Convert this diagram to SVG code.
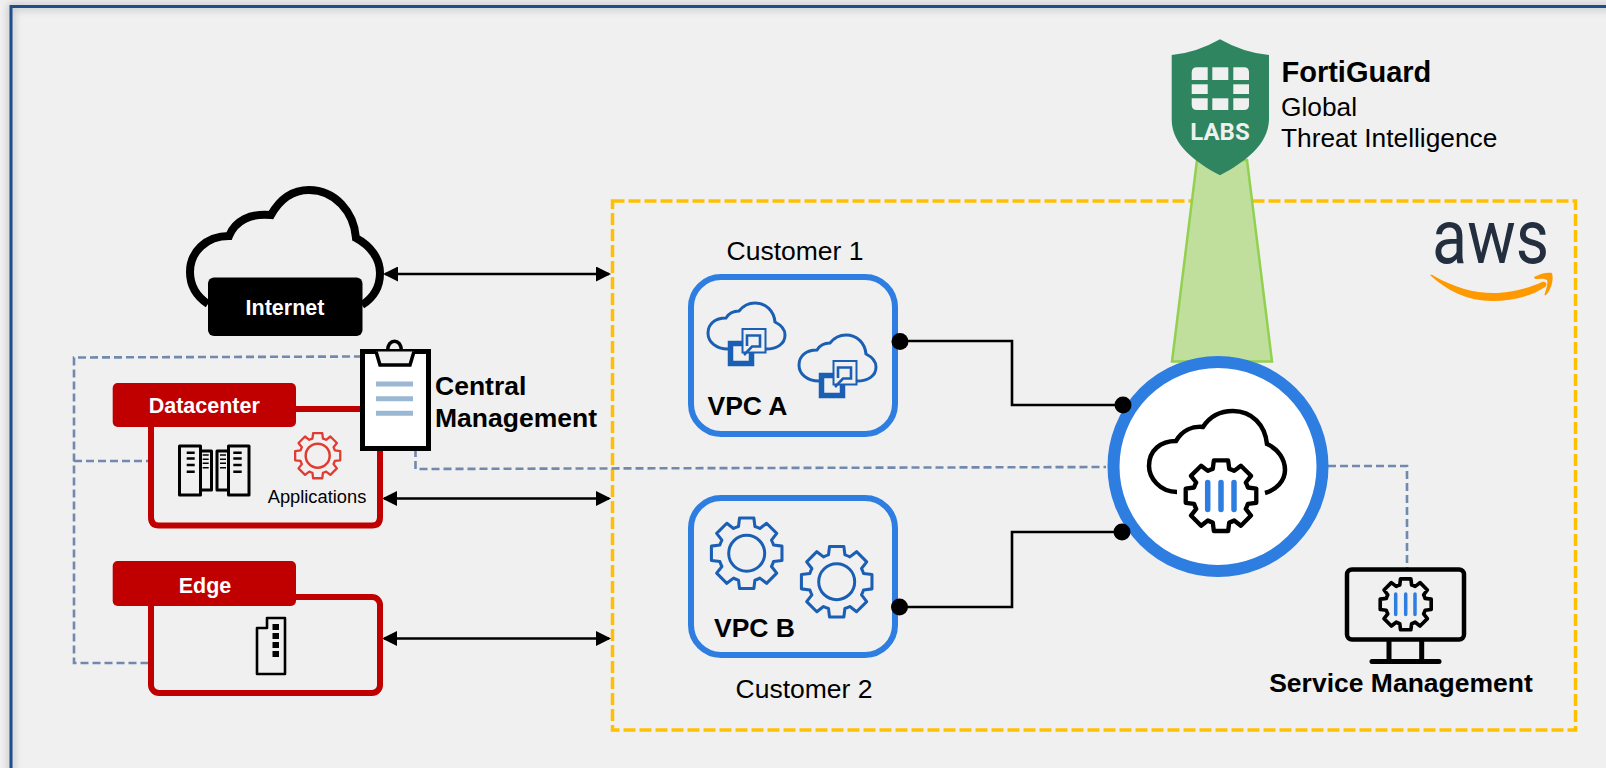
<svg xmlns="http://www.w3.org/2000/svg" width="1606" height="768" viewBox="0 0 1606 768">
<style>
text{font-family:"Liberation Sans",Arial,sans-serif;fill:#000}
.b{font-weight:bold}
.lbl{font-weight:bold;fill:#fff;font-size:21.500px;text-anchor:middle}
.t26{font-size:26.500px}
.mid{text-anchor:middle}
.red{fill:none;stroke:#c00000;stroke-width:6}
.redfill{fill:#c00000}
.vpc{fill:none;stroke:#2e7de1;stroke-width:6}
.dash{fill:none;stroke:#7189ad;stroke-width:2.600;stroke-dasharray:8 4}
.arrow{fill:none;stroke:#000;stroke-width:2.600;marker-start:url(#ah);marker-end:url(#ah)}
.wire{fill:none;stroke:#000;stroke-width:2.600}
.gear-b{fill:none;stroke:#1b5fb5;stroke-width:8.500;stroke-linejoin:round}
.bar{stroke:#2e7de1;stroke-linecap:round}
.blue{fill:none;stroke:#1b5fb5;stroke-width:3}
</style>
<defs>
<filter id="sh" x="-5%" y="-5%" width="110%" height="110%"><feGaussianBlur stdDeviation="4"/></filter>
<marker id="ah" viewBox="0 0 15 15" markerWidth="15" markerHeight="15" refX="13" refY="7.5" orient="auto-start-reverse" markerUnits="userSpaceOnUse"><path d="M0,0L15,7.5L0,15Z" fill="#000"/></marker>
<path id="gear" d="M19.9,-98L22.8,-74.6A78,78 0 0 1 36.6,-68.9L55.2,-83.4L83.4,-55.2L68.9,-36.6A78,78 0 0 1 74.6,-22.8L98,-19.9L98,19.9L74.6,22.8A78,78 0 0 1 68.9,36.6L83.4,55.2L55.2,83.4L36.6,68.9A78,78 0 0 1 22.8,74.6L19.9,98L-19.9,98L-22.8,74.6A78,78 0 0 1 -36.6,68.9L-55.2,83.4L-83.4,55.2L-68.9,36.6A78,78 0 0 1 -74.6,22.8L-98,19.9L-98,-19.9L-74.6,-22.8A78,78 0 0 1 -68.9,-36.6L-83.4,-55.2L-55.2,-83.4L-36.6,-68.9A78,78 0 0 1 -22.8,-74.6L-19.9,-98Z"/>
<g id="vpccloud">
<path class="blue" d="M728,349C716,349 708,342 708,333C708,324 715,318 726,318C729,313 734,311 739,311C743,306 749,303 755,303C766,303 774,311 775,322C781,325 785,330 785,335C785,344 777,349 766,349"/>
<rect x="730.500" y="343.500" width="21" height="20" fill="#f0f0f0" stroke="#1b5fb5" stroke-width="5.500"/>
<rect x="742.500" y="329" width="23" height="23.500" fill="#f0f0f0" stroke="#1b5fb5" stroke-width="2"/>
<path d="M747,346V335.500H760V346.500H752L744,355" fill="none" stroke="#1b5fb5" stroke-width="2.600"/>
</g>
</defs>

<g id="background">
<rect width="1606" height="768" fill="#f0f0f0"/>
<rect x="11" y="6.500" width="1700" height="900" fill="none" stroke="#777" stroke-width="4" opacity=".55" filter="url(#sh)"/>
<rect x="11" y="6.500" width="1700" height="900" fill="none" stroke="#1f4e8c" stroke-width="3"/>
</g>

<rect id="aws-region" x="612.500" y="201" width="963" height="529" fill="none" stroke="#ffc000" stroke-width="3.500" stroke-dasharray="12 4"/>

<g id="beam">
<path d="M1197,160L1247,160L1272,361.500L1172,361.500Z" fill="#c0df9d" stroke="#92d050" stroke-width="2.500"/>
</g>

<g id="connectors">
<path class="arrow" d="M385,274H609"/>
<path class="arrow" d="M384,498.500H609"/>
<path class="arrow" d="M384,638.500H609"/>
<path class="wire" d="M899,341H1012V405H1123"/>
<path class="wire" d="M899,607H1012V532H1122"/>
<path class="dash" d="M362,356.500L74,357.500V663H150"/>
<path class="dash" d="M74,461H150"/>
<path class="dash" d="M415.500,449V469L1106,467"/>
<path class="dash" d="M1328,466H1407V568"/>
</g>

<g id="fortiguard">
<path d="M1220,39.300Q1196,53 1171.700,55L1171.700,120C1172,145 1195,162 1220,175.300C1245,162 1268,145 1269,120L1269,55Q1244,53 1220,39.300Z" fill="#2e855f"/>
<g fill="#f0f0f0">
<path d="M1197,67.300H1207.700V80H1191.700V72.500Q1191.700,67.300 1197,67.300Z"/>
<rect x="1212.300" y="67.300" width="16" height="12.700"/>
<path d="M1233.300,67.300H1244Q1249,67.300 1249,72.500V80H1233.300Z"/>
<rect x="1191.700" y="84.300" width="16" height="9.700"/>
<rect x="1233.300" y="84.300" width="15.700" height="9.700"/>
<path d="M1191.700,98.300H1207.700V110H1197Q1191.700,110 1191.700,105Z"/>
<rect x="1212.300" y="98.300" width="16" height="11.700"/>
<path d="M1233.300,98.300H1249V105Q1249,110 1244,110H1233.300Z"/>
</g>
<text x="1220" y="139.500" class="mid" font-size="24" style="font-family:Roboto,sans-serif;font-weight:700;fill:#f0f0f0">LABS</text>
<text x="1281.500" y="81.500" class="b" font-size="29">FortiGuard</text>
<text x="1281" y="116" font-size="26.300">Global</text>
<text x="1281" y="147" font-size="26.300">Threat Intelligence</text>
</g>

<g id="aws-logo">
<text x="1432" y="262.700" font-size="76" textLength="117" lengthAdjust="spacingAndGlyphs" style="font-family:Roboto,sans-serif;font-weight:400;fill:#232f3e">aws</text>
<path d="M1430,275Q1432,274 1434,276C1455,288 1477,294 1498,293C1514,292 1529,288 1542,282C1546,281 1548,284 1545,287C1532,296 1512,301 1492,301C1468,301 1447,291 1430,275Z" fill="#ff9900"/>
<path d="M1534,277C1541,273 1548,272 1552,273C1554,280 1551,290 1546,295C1545,296 1544,295 1545,293C1547,287 1548,282 1547,280C1544,278 1539,279 1535,279Z" fill="#ff9900"/>
</g>

<g id="internet">
<path d="M208,304C196,296 190,285 190,272C190,252 206,236 229,236C235,221 250,213 271,215C280,199 293,190 309,190C335,190 354,212 356,238C371,246 380,259 380,273C380,287 373,298 362,305" fill="none" stroke="#000" stroke-width="8"/>
<rect x="208" y="277.500" width="154.500" height="58.500" rx="6"/>
<text x="285" y="315" class="lbl">Internet</text>
</g>

<g id="datacenter">
<path class="red" d="M151,409V517Q151,525.500 159,525.500H372Q380,525.500 380,517V409H290"/>
<rect x="112.700" y="383" width="183.300" height="44" rx="5" class="redfill"/>
<text x="204.300" y="413" class="lbl">Datacenter</text>
<g fill="none" stroke="#000" stroke-width="3" stroke-linejoin="round">
<rect x="179.500" y="446" width="21" height="49"/>
<path d="M200.500,451H211.500V490H200.500"/>
<rect x="228.500" y="446" width="20.500" height="49"/>
<path d="M228.500,451H217V490H228.500"/>
</g>
<path d="M186.700,452.700h8M186.700,458.500h8M186.700,465h8M186.700,471.700h8M233.300,452.700h8.400M233.300,458.500h8.400M233.300,465h8.400M233.300,471.700h8.400" stroke="#000" stroke-width="2.600"/>
<path d="M202.700,455h6M202.700,459.300h6M202.700,463.300h6M202.700,467.700h6M220,455h6M220,459.300h6M220,463.300h6M220,467.700h6" stroke="#000" stroke-width="1.500"/>
<use href="#gear" transform="translate(317.700,455.700) scale(.23)" fill="none" stroke="#e03c31" stroke-width="10" stroke-linejoin="round"/>
<circle cx="317.700" cy="455.700" r="12" fill="none" stroke="#e03c31" stroke-width="2.500"/>
<text x="317" y="503" class="mid" font-size="18.300">Applications</text>
</g>

<g id="edge">
<rect x="151" y="597" width="229" height="96" rx="8" class="red"/>
<rect x="112.700" y="561" width="183.300" height="45" rx="5" class="redfill"/>
<text x="205" y="592.500" class="lbl">Edge</text>
<path d="M267,628V618H285V674H257V628Z" fill="none" stroke="#000" stroke-width="2.600" stroke-linejoin="round"/>
<path d="M272.500,627h6.500M272.500,636h6.500M272.500,645h6.500M272.500,654h6.500" stroke="#000" stroke-width="6"/>
</g>

<g id="central-management">
<path d="M387.500,351C387.500,338 401.500,338 401.500,351" fill="none" stroke="#000" stroke-width="3.500"/>
<rect x="362.500" y="351.500" width="66" height="97" fill="#fff" stroke="#000" stroke-width="5"/>
<path d="M376,351.500L380,365H410L414,351.500" fill="#f0f0f0" stroke="#000" stroke-width="3.500"/>
<path d="M376,384h37M376,398.700h37M376,413.300h37" stroke="#9bb8d3" stroke-width="5"/>
<text x="435" y="395" class="b t26">Central</text>
<text x="435" y="426.700" class="b t26">Management</text>
</g>

<g id="vpc-a">
<rect x="691" y="277" width="204" height="157" rx="30" class="vpc"/>
<use href="#vpccloud"/>
<use href="#vpccloud" x="91" y="32"/>
<text x="707.500" y="415" class="b t26">VPC A</text>
<text x="795" y="260" class="mid t26">Customer 1</text>
</g>

<g id="vpc-b">
<rect x="691" y="498" width="204" height="157" rx="30" class="vpc"/>
<use href="#gear" transform="translate(746.700,553.300) scale(.36)" class="gear-b"/>
<circle cx="746.700" cy="553.300" r="18" class="blue"/>
<use href="#gear" transform="translate(836.700,581.700) scale(.36)" class="gear-b"/>
<circle cx="836.700" cy="581.700" r="18" class="blue"/>
<text x="714" y="636.700" class="b t26">VPC B</text>
<text x="804" y="698" class="mid t26">Customer 2</text>
</g>

<g id="security-service">
<circle cx="1218" cy="466.500" r="104.500" fill="#fff" stroke="#2e7de1" stroke-width="12"/>
<path d="M1177,492C1160,492 1149,478 1149,466C1149,450 1161,441 1176,441C1182,431 1192,426 1203,427C1210,416 1220,411 1233,411C1252,411 1265,425 1267,444C1278,449 1285,459 1285,470C1285,481 1276,490 1265,493" fill="none" stroke="#000" stroke-width="4.500"/>
<use href="#gear" transform="translate(1221,495.700) scale(.36)" fill="#fff" stroke="#000" stroke-width="12" stroke-linejoin="round"/>
<path class="bar" d="M1207.700,482.500V509.500M1221,482.500V509.500M1234,482.500V509.500" stroke-width="5.500"/>
</g>

<g id="service-management">
<rect x="1347" y="569.500" width="117" height="70" rx="5" fill="none" stroke="#000" stroke-width="4.500"/>
<path d="M1389,641V661M1421.700,641V661" stroke="#000" stroke-width="5"/>
<path d="M1372,661.500H1439" stroke="#000" stroke-width="5" stroke-linecap="round"/>
<use href="#gear" transform="translate(1405.700,604.300) scale(.26)" fill="none" stroke="#000" stroke-width="14" stroke-linejoin="round"/>
<path class="bar" d="M1395.700,594V614.500M1405.700,594V614.500M1415,594V614.500" stroke-width="3.500"/>
<text x="1401" y="691.500" class="b mid t26">Service Management</text>
</g>

<g id="connector-dots">
<circle cx="900" cy="341.500" r="8.500"/>
<circle cx="1123" cy="405" r="8.500"/>
<circle cx="899.500" cy="607" r="8.500"/>
<circle cx="1122" cy="532" r="8.500"/>
</g>
</svg>
